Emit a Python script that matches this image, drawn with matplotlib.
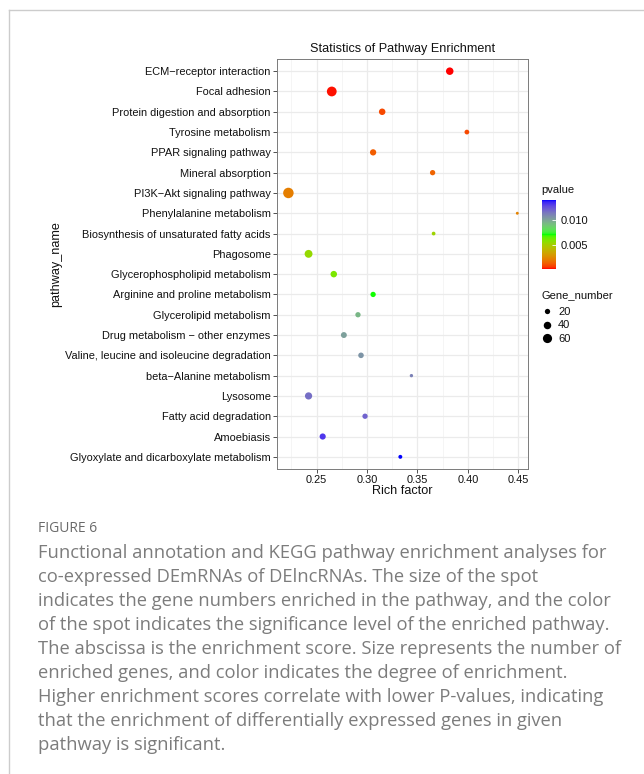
"""
KEGG pathway enrichment bubble chart with figure caption
"""

import matplotlib.pyplot as plt
import numpy as np
from matplotlib.colors import ListedColormap, Normalize
from matplotlib.lines import Line2D

# pathway data (top to bottom)
pathways = [
    'ECM\u2212receptor interaction', 'Focal adhesion', 'Protein digestion and absorption',
    'Tyrosine metabolism', 'PPAR signaling pathway', 'Mineral absorption',
    'PI3K\u2212Akt signaling pathway', 'Phenylalanine metabolism',
    'Biosynthesis of unsaturated fatty acids', 'Phagosome',
    'Glycerophospholipid metabolism', 'Arginine and proline metabolism',
    'Glycerolipid metabolism', 'Drug metabolism \u2212 other enzymes',
    'Valine, leucine and isoleucine degradation', 'beta\u2212Alanine metabolism',
    'Lysosome', 'Fatty acid degradation', 'Amoebiasis',
    'Glyoxylate and dicarboxylate metabolism',
]
rich_factor = [0.382, 0.265, 0.315, 0.399, 0.306, 0.365, 0.222, 0.449, 0.366, 0.242,
               0.267, 0.306, 0.291, 0.277, 0.294, 0.344, 0.242, 0.298, 0.256, 0.333]
gene_number = [40, 68, 30, 16, 28, 20, 78, 6, 10, 44,
               30, 20, 20, 25, 22, 8, 37, 20, 27, 11]
pvalue = [0.0002, 0.0003, 0.0009, 0.0009, 0.0013, 0.0015, 0.0022, 0.0023, 0.0053, 0.0055,
          0.0061, 0.0071, 0.0095, 0.0102, 0.0106, 0.0112, 0.0118, 0.0121, 0.0133, 0.0141]

x_ticks = [0.25, 0.30, 0.35, 0.40, 0.45]
p_ticks = [0.005, 0.010]
legend_sizes = [20, 40, 60]

caption_lines = [
    'Functional annotation and KEGG pathway enrichment analyses for',
    'co-expressed DEmRNAs of DElncRNAs. The size of the spot',
    'indicates the gene numbers enriched in the pathway, and the color',
    'of the spot indicates the significance level of the enriched pathway.',
    'The abscissa is the enrichment score. Size represents the number of',
    'enriched genes, and color indicates the degree of enrichment.',
    'Higher enrichment scores correlate with lower P-values, indicating',
    'that the enrichment of differentially expressed genes in given',
    'pathway is significant.',
]

W, H = 644, 774
SIZE_SCALE = 0.73


def srgb_to_lab(rgb):
    rgb = np.asarray(rgb, dtype=float)
    lin = np.where(rgb <= 0.04045, rgb / 12.92, ((rgb + 0.055) / 1.055) ** 2.4)
    m = np.array([[0.4124, 0.3576, 0.1805],
                  [0.2126, 0.7152, 0.0722],
                  [0.0193, 0.1192, 0.9505]])
    xyz = m @ lin / np.array([0.95047, 1.0, 1.08883])
    d = 6 / 29
    f = np.where(xyz > d ** 3, np.cbrt(xyz), xyz / (3 * d * d) + 4 / 29)
    return np.array([116 * f[1] - 16, 500 * (f[0] - f[1]), 200 * (f[1] - f[2])])


def lab_to_srgb(lab):
    L, a, b = lab
    fy_ = (L + 16) / 116
    f = np.array([fy_ + a / 500, fy_, fy_ - b / 200])
    d = 6 / 29
    xyz = np.where(f > d, f ** 3, 3 * d * d * (f - 4 / 29)) * np.array([0.95047, 1.0, 1.08883])
    minv = np.linalg.inv(np.array([[0.4124, 0.3576, 0.1805],
                                   [0.2126, 0.7152, 0.0722],
                                   [0.0193, 0.1192, 0.9505]]))
    lin = np.clip(minv @ xyz, 0, 1)
    rgb = np.where(lin <= 0.0031308, 12.92 * lin, 1.055 * lin ** (1 / 2.4) - 0.055)
    return np.clip(rgb, 0, 1)


def lab_ramp(colors, n=256):
    # interpolate in CIELAB, like ggplot's gradientn
    labs = [srgb_to_lab(c) for c in colors]
    out = []
    for t in np.linspace(0, 1, n):
        pos = t * (len(labs) - 1)
        i = min(int(pos), len(labs) - 2)
        w = pos - i
        out.append(lab_to_srgb((1 - w) * labs[i] + w * labs[i + 1]))
    return ListedColormap(out)


def fx(px):
    return px / W


def fy(py):
    return 1 - py / H


plt.rcParams['font.family'] = ['Liberation Sans', 'DejaVu Sans']

fig = plt.figure(figsize=(W / 100, H / 100), dpi=100)

# outer card frame
fig.add_artist(Line2D([fx(9), 1], [fy(10), fy(10)], color='#cccccc', lw=1))
fig.add_artist(Line2D([fx(9), fx(9)], [fy(10), 0], color='#cccccc', lw=1))

ax = fig.add_axes([fx(277), fy(469), fx(528) - fx(277), fy(59) - fy(469)])

cmap = lab_ramp([(1, 0, 0), (0, 1, 0), (0, 0, 1)])
norm = Normalize(vmin=min(pvalue), vmax=max(pvalue))
y_pos = np.arange(len(pathways))

sc = ax.scatter(rich_factor, y_pos, s=np.array(gene_number) * SIZE_SCALE,
                c=pvalue, cmap=cmap, norm=norm, edgecolors='none', zorder=3)

ax.set_xlim(0.2107, 0.4596)
ax.set_ylim(len(pathways) - 1 + 0.6, -0.6)
ax.set_xticks(x_ticks)
ax.set_xticklabels([f'{v:.2f}' for v in x_ticks])
ax.set_xticks([0.225] + [v + 0.025 for v in x_ticks[:-1]], minor=True)
ax.set_yticks(y_pos)
ax.set_yticklabels(pathways)

ax.grid(True, which='major', color='#ebebeb', lw=0.9, zorder=0)
ax.grid(True, which='minor', axis='x', color='#f2f2f2', lw=0.5, zorder=0)
ax.set_axisbelow(True)
ax.tick_params(which='major', length=3, width=0.6, color='#333333',
               labelsize=7.9, labelcolor='#111111', pad=1.5)
ax.tick_params(which='minor', length=0)
for sp in ax.spines.values():
    sp.set_color('#7a7a7a')
    sp.set_linewidth(0.7)

ax.set_title('Statistics of Pathway Enrichment', fontsize=9.1, color='#111111', pad=5)
ax.set_xlabel('Rich factor', fontsize=9.1, color='#111111', labelpad=0)
ax.set_ylabel('pathway_name', fontsize=9.1, color='#111111', labelpad=2)

# colour bar for p-values
cax = fig.add_axes([fx(542), fy(269), fx(556) - fx(542), fy(200) - fy(269)])
cb = fig.colorbar(sc, cax=cax, ticks=p_ticks)
cb.outline.set_visible(False)
cb.ax.set_yticklabels([f'{v:.3f}' for v in p_ticks])
cb.ax.tick_params(length=3, width=0.6, color='white', direction='in',
                  labelsize=8, labelcolor='#111111', pad=3)
fig.text(fx(541), fy(190), 'pvalue', fontsize=8, color='#111111', va='center', ha='left')

# size legend for gene numbers
fig.text(fx(541), fy(295), 'Gene_number', fontsize=8, color='#111111',
         va='center', ha='left')
handles = [Line2D([], [], ls='none', marker='o', color='black', mec='none',
                  markersize=np.sqrt(n * SIZE_SCALE)) for n in legend_sizes]
leg = fig.legend(handles, [str(n) for n in legend_sizes],
                 loc='upper left', bbox_to_anchor=(fx(541), fy(307)),
                 frameon=False, fontsize=8, borderpad=0, borderaxespad=0,
                 handlelength=1.0, handletextpad=0.55, labelspacing=0.31)
for t in leg.get_texts():
    t.set_color('#111111')

# caption
fig.text(fx(38), fy(529), 'FIGURE 6', family='Open Sans', fontsize=10,
         color='#6a6a6a', va='center', ha='left')
for i, line in enumerate(caption_lines):
    fig.text(fx(38), fy(553 + i * 24), line, family='Open Sans', fontsize=13.2,
             color='#7c7c7c', va='center', ha='left')

fig.savefig('out.png', dpi=100)
